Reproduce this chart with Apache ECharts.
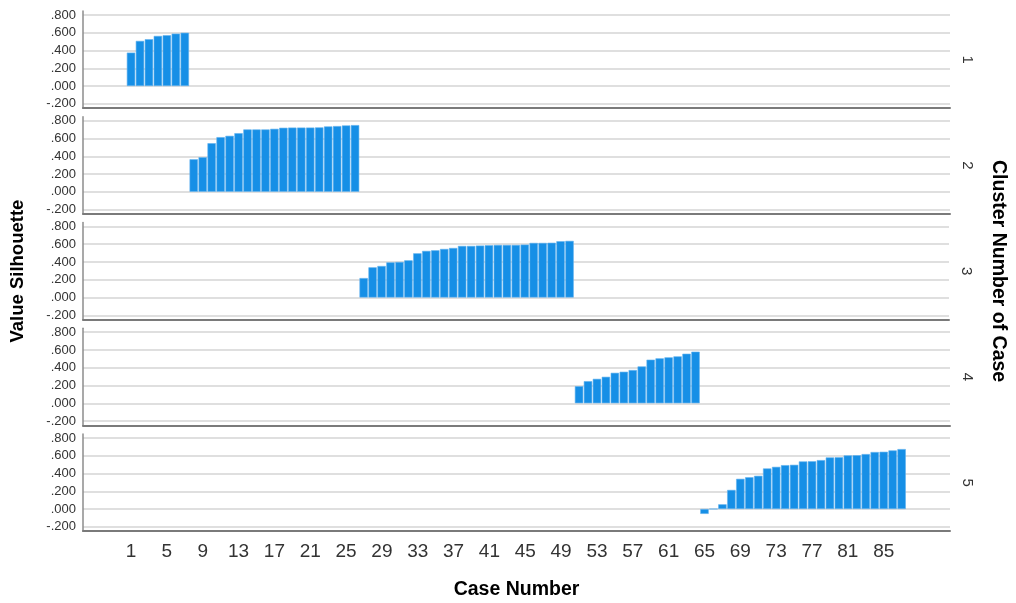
<!DOCTYPE html>
<html><head><meta charset="utf-8">
<script src="https://cdn.jsdelivr.net/npm/echarts@6/dist/echarts.min.js"></script>
<style>html,body{margin:0;padding:0;background:#fff}#c{width:1016px;height:603px}</style>
</head><body><div id="c"></div>
<script>
// ---- data ----
const clusterLabels = ['1', '2', '3', '4', '5'];
const cases1 = [1, 2, 3, 4, 5, 6, 7];
const cases2 = [8, 9, 10, 11, 12, 13, 14, 15, 16, 17, 18, 19, 20, 21, 22, 23, 24, 25, 26];
const cases3 = [27, 28, 29, 30, 31, 32, 33, 34, 35, 36, 37, 38, 39, 40, 41, 42, 43, 44, 45, 46, 47, 48, 49, 50];
const cases4 = [51, 52, 53, 54, 55, 56, 57, 58, 59, 60, 61, 62, 63, 64];
const cases5 = [65, 66, 67, 68, 69, 70, 71, 72, 73, 74, 75, 76, 77, 78, 79, 80, 81, 82, 83, 84, 85, 86, 87];
const sil1 = [0.376, 0.508, 0.527, 0.564, 0.572, 0.590, 0.600];
const sil2 = [0.366, 0.389, 0.547, 0.615, 0.630, 0.660, 0.702, 0.702, 0.702, 0.709, 0.721, 0.723, 0.723, 0.723, 0.725, 0.736, 0.740, 0.747, 0.751];
const sil3 = [0.219, 0.340, 0.355, 0.396, 0.400, 0.419, 0.498, 0.525, 0.532, 0.547, 0.558, 0.581, 0.581, 0.585, 0.589, 0.592, 0.592, 0.592, 0.596, 0.615, 0.615, 0.617, 0.634, 0.638];
const sil4 = [0.192, 0.249, 0.275, 0.298, 0.343, 0.355, 0.374, 0.415, 0.491, 0.506, 0.517, 0.528, 0.558, 0.581];
const sil5 = [-0.055, 0.000, 0.053, 0.215, 0.340, 0.358, 0.374, 0.457, 0.475, 0.494, 0.498, 0.536, 0.538, 0.551, 0.581, 0.583, 0.604, 0.606, 0.619, 0.642, 0.645, 0.660, 0.675];
const xTickLabels = [1, 5, 9, 13, 17, 21, 25, 29, 33, 37, 41, 45, 49, 53, 57, 61, 65, 69, 73, 77, 81, 85];
const yTickLabels = [-0.2, 0, 0.2, 0.4, 0.6, 0.8];
const xTitle = 'Case Number';
const yTitle = 'Value Silhouette';
const rightTitle = 'Cluster Number of Case';

const casesAll = [cases1, cases2, cases3, cases4, cases5];
const silAll = [sil1, sil2, sil3, sil4, sil5];

// ---- layout ----
const FONT = '"Liberation Sans", Arial, sans-serif';
const gTop0 = 11, gStep = 105.75, gH = 97.2;
const grids = [], xAxes = [], yAxes = [], series = [];
function fmtY(v) {
  const r = Math.round(v * 1000) / 1000;
  let s = Math.abs(r).toFixed(3).replace(/^0/, '');
  return (r < 0 ? '-' : '') + s;
}
for (let k = 0; k < 5; k++) {
  grids.push({ left: 83, right: 66, top: gTop0 + k * gStep, height: gH, containLabel: false });
  const last = k === 4;
  xAxes.push({
    gridIndex: k, type: 'value', min: -4.36, max: 92.4,
    axisLine: { show: true, onZero: false, lineStyle: { color: '#7a7a7a', width: 2 } },
    axisTick: { show: false, customValues: xTickLabels },
    splitLine: { show: false },
    axisLabel: { show: last, customValues: xTickLabels, fontSize: 19, color: '#333', margin: 11, fontFamily: FONT },
    name: last ? xTitle : '', nameLocation: 'middle', nameGap: 48,
    nameTextStyle: { fontSize: 19.5, fontWeight: 'bold', color: '#000', fontFamily: FONT }
  });
  yAxes.push({
    gridIndex: k, type: 'value', min: -0.25, max: 0.845, position: 'left',
    axisLine: { show: true, onZero: false, lineStyle: { color: '#8c8c8c', width: 1.5 } },
    axisTick: { show: false, customValues: yTickLabels },
    splitLine: { show: true, lineStyle: { color: '#d4d4d4', width: 1.5 } },
    axisLabel: { customValues: yTickLabels, formatter: fmtY, fontSize: 13, color: '#333', margin: 7, fontFamily: FONT },
    name: k === 2 ? yTitle : '', nameLocation: 'middle', nameGap: 56, nameRotate: 90,
    nameTextStyle: { fontSize: 18.5, fontWeight: 'bold', color: '#000', fontFamily: FONT }
  });
  yAxes.push({
    gridIndex: k, type: 'value', min: -0.25, max: 0.845, position: 'right',
    axisLine: { show: false }, axisTick: { show: false }, axisLabel: { show: false }, splitLine: { show: false },
    name: clusterLabels[k], nameLocation: 'middle', nameGap: 10, nameRotate: -90,
    nameTextStyle: { fontSize: 15, color: '#333', fontFamily: FONT }
  });
  series.push({
    type: 'bar', xAxisIndex: k, yAxisIndex: 2 * k,
    data: casesAll[k].map((c, i) => [c, silAll[k][i]]),
    barWidth: 8.4,
    itemStyle: { color: '#168fe6', borderColor: '#62b2ee', borderWidth: 0.6 },
    silent: true
  });
}
// right overall title via an extra right axis on middle grid
yAxes.push({
  gridIndex: 2, type: 'value', min: -0.25, max: 0.845, position: 'right',
  axisLine: { show: false }, axisTick: { show: false }, axisLabel: { show: false }, splitLine: { show: false },
  name: rightTitle, nameLocation: 'middle', nameGap: 39, nameRotate: -90,
  nameTextStyle: { fontSize: 19.5, fontWeight: 'bold', color: '#000', fontFamily: FONT }
});

const chart = echarts.init(document.getElementById('c'), null, { renderer: 'canvas' });
chart.setOption({
  animation: false,
  backgroundColor: '#fff',
  grid: grids, xAxis: xAxes, yAxis: yAxes, series: series
});
</script></body></html>
